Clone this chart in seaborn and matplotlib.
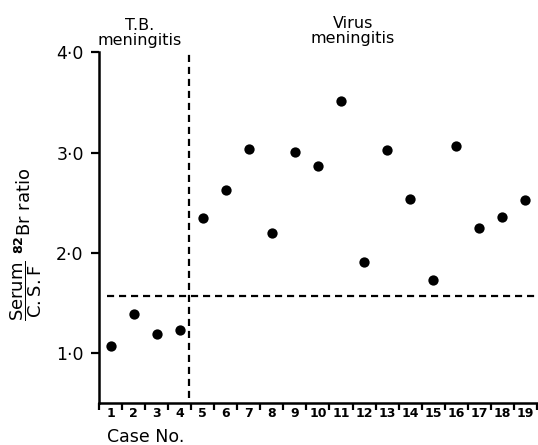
import numpy as np
import pandas as pd
import matplotlib
matplotlib.use("Agg")
import matplotlib.pyplot as plt
import seaborn as sns

# Serum / C.S.F. 82Br ratio per case
cases = list(range(1, 20))
ratios = [1.07, 1.39, 1.19, 1.23, 2.35, 2.63, 3.04, 2.20, 3.01, 2.87,
          3.51, 1.91, 3.03, 2.54, 1.73, 3.07, 2.25, 2.36, 2.53]
group_split = 4.42     # between T.B. and virus cases
threshold = 1.57       # horizontal dividing ratio
y_ticks = [1.0, 2.0, 3.0, 4.0]
y_tick_labels = ["1·0", "2·0", "3·0", "4·0"]

df = pd.DataFrame({"Case": cases, "Ratio": ratios})

sns.set_style("ticks")
plt.rcParams["font.family"] = ["DejaVu Sans"]
plt.rcParams["text.color"] = "black"
plt.rcParams["xtick.color"] = "black"
plt.rcParams["ytick.color"] = "black"

fig = plt.figure(figsize=(5.38, 4.45), dpi=100)
ax = fig.add_axes([0.184, 0.0944, 0.814, 0.788])

sns.scatterplot(data=df, x="Case", y="Ratio", ax=ax, color="black",
                s=55, edgecolor="black", linewidth=0, zorder=3, legend=False)

# dividing lines
ax.plot([group_split, group_split], [0.55, 4.0], color="black", lw=1.6,
        dashes=(3.2, 2.2))
ax.plot([0.85, 19.45], [threshold, threshold], color="black", lw=1.6,
        dashes=(3.2, 2.2))

ax.set_xlim(0.5, 19.5)
ax.set_ylim(0.5, 4.0)

# x: labels at case numbers, ticks between them
ax.set_xticks(cases)
ax.set_xticklabels([str(c) for c in cases], fontsize=9, fontweight="bold")
ax.set_xticks(np.arange(0.5, 19.6, 1.0), minor=True)
ax.tick_params(axis="x", which="major", length=0, pad=3)
ax.tick_params(axis="x", which="minor", length=5, width=1.6, direction="out")

ax.set_yticks(y_ticks)
ax.set_yticklabels(y_tick_labels, fontsize=12.5)
ax.tick_params(axis="y", length=6, width=1.6, direction="out", pad=5)

sns.despine(ax=ax, top=True, right=True)
for side in ["left", "bottom"]:
    ax.spines[side].set_linewidth(1.8)
    ax.spines[side].set_color("black")

ax.set_xlabel("")
ax.set_ylabel("")

fig.text(0.26, 0.925, "T.B.\nmeningitis", ha="center", va="center",
         fontsize=11.5, linespacing=1.0)
fig.text(0.656, 0.93, "Virus\nmeningitis", ha="center", va="center",
         fontsize=11.5, linespacing=1.0)
fig.text(0.27, 0.018, "Case No.", ha="center", va="center", fontsize=12.5)
fig.text(0.048, 0.45,
         r"$\dfrac{\mathrm{Serum}}{\mathrm{C.S.F}}\ ^{\mathbf{82}}\mathrm{Br\ ratio}$",
         rotation=90, ha="center", va="center", fontsize=13)

fig.savefig("out.png", dpi=100)
